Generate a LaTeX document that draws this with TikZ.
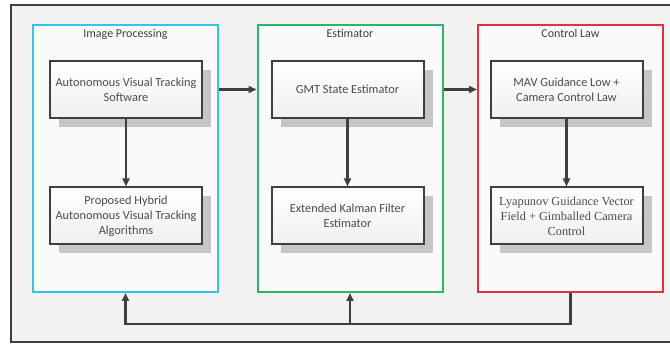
\documentclass[tikz,border=0pt]{standalone}
\usepackage{fontspec}
\setmainfont{Carlito}
\newfontfamily\lyapfont{Liberation Serif}
\usepackage{xcolor}
\usepackage{tikz}
\usetikzlibrary{arrows.meta,positioning,shadows}
\definecolor{ipcol}{HTML}{35C3E6}
\definecolor{estcol}{HTML}{2DB36E}
\definecolor{ctlcol}{HTML}{E5303C}
\definecolor{linecol}{HTML}{3F3F3F}
\tikzset{
  stage/.style={draw, line width=2pt, fill=white!96!gray, minimum width=185pt, minimum height=267pt, inner sep=0pt},
  stagetitle/.style={font=\fontsize{12}{14}\selectfont, text=black!75, below=2pt},
  block/.style={draw=linecol, line width=2pt, align=center, font=\fontsize{12.3}{15}\selectfont, text=black!70,
    minimum width=152pt, minimum height=57pt, inner sep=1pt, top color=white, bottom color=gray!12,
    drop shadow={shadow xshift=9pt, shadow yshift=-9pt, fill=gray!45, opacity=1}},
  arr/.style={-{Triangle[length=8pt, width=7pt]}, line width=2.2pt, draw=linecol}}

\begin{document}
\begin{tikzpicture}[x=1pt, y=-1pt]
  \useasboundingbox (0,0) rectangle (670,344);
  \draw[linecol, line width=2pt, fill=gray!10] (11,5) rectangle (680,342);
  % three stages
  \node[stage, draw=ipcol] (ip) at (125.5,158.5) {};
  \node[stage, draw=estcol] (est) at (350,158.5) {};
  \node[stage, draw=ctlcol] (ctl) at (570.5,158.5) {};
  \node[stagetitle] (ipt) at (ip.north) {Image Processing};
  \node[stagetitle] (estt) at (est.north) {Estimator};
  \node[stagetitle] (ctlt) at (ctl.north) {Control Law};
  % blocks
  \node[block] (avts) at (126,89.5) {Autonomous Visual Tracking\\Software};
  \node[block] (hyb) at (126,216) {Proposed Hybrid\\Autonomous Visual Tracking\\Algorithms};
  \node[block] (gmt) at (347.5,89.5) {GMT State Estimator};
  \node[block] (ekf) at (347.5,216) {Extended Kalman Filter\\Estimator};
  \node[block] (mav) at (566.5,89.5) {MAV Guidance Low +\\Camera Control Law};
  \node[block, font=\lyapfont\fontsize{12.3}{15}\selectfont] (lyap) at (566.5,216) {Lyapunov Guidance Vector\\Field + Gimballed Camera\\Control};
  \draw[arr] (avts) -- (hyb);
  \draw[arr] (gmt) -- (ekf);
  \draw[arr] (mav) -- (lyap);
  \draw[arr] (ip.east |- avts) -- (est.west |- avts);
  \draw[arr] (est.east |- gmt) -- (ctl.west |- gmt);
  % feedback
  \coordinate (fb) at (0,324);
  \draw[arr] (ctl.south) -- (ctl.south |- fb) -- (ip.south |- fb) -- (ip.south);
  \draw[arr] (est.south |- fb) -- (est.south);
\end{tikzpicture}
\end{document}
